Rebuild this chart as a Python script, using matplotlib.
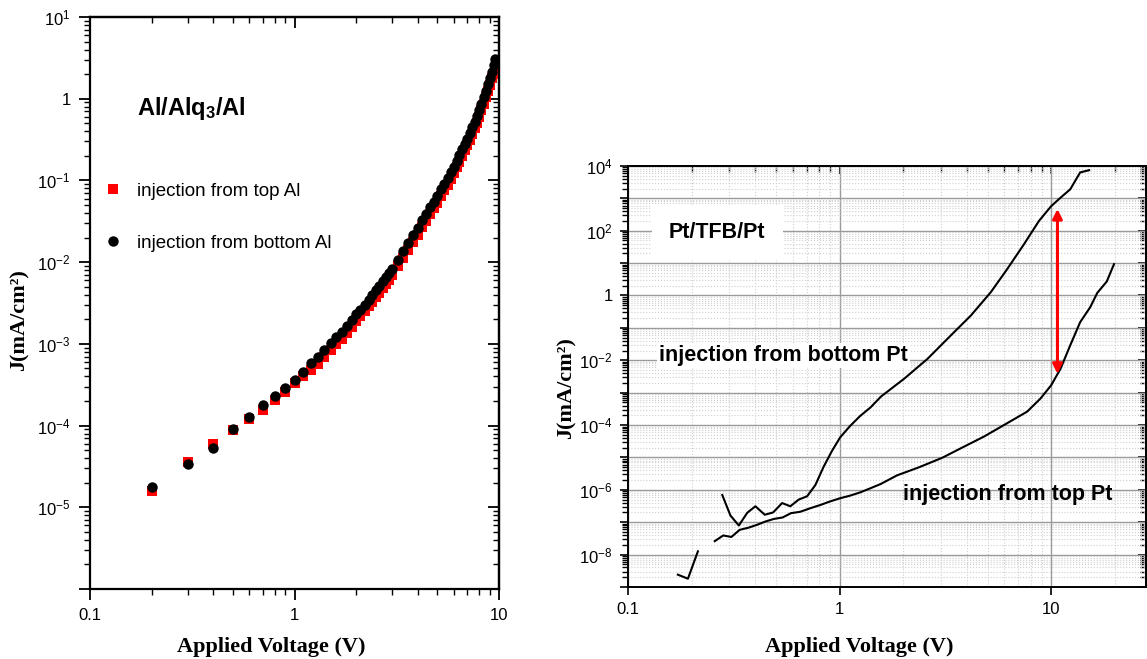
import numpy as np
import matplotlib
matplotlib.use("Agg")
import matplotlib.pyplot as plt
from matplotlib.ticker import LogLocator, FuncFormatter, NullFormatter

plt.rcParams['font.family'] = ['Liberation Sans', 'DejaVu Sans']
plt.rcParams['mathtext.fontset'] = 'custom'
plt.rcParams['mathtext.rm'] = 'Liberation Sans'
plt.rcParams['mathtext.it'] = 'Liberation Sans:italic'
plt.rcParams['mathtext.bf'] = 'Liberation Sans:bold'

# ---- Al/Alq3/Al data (V, mA/cm2) ----
v_top_al = [0.2, 0.3, 0.4, 0.5, 0.6, 0.7, 0.8, 0.9, 1.0, 1.1, 1.2, 1.3, 1.4, 1.5,
            1.6, 1.7, 1.8, 1.9, 2.0, 2.1, 2.2, 2.3, 2.4, 2.5, 2.6, 2.7, 2.8, 2.9,
            3.0, 3.2, 3.4, 3.6, 3.8, 4.0, 4.2, 4.4, 4.6, 4.8, 5.0, 5.2, 5.4, 5.6,
            5.8, 6.0, 6.2, 6.4, 6.6, 6.8, 7.0, 7.2, 7.4, 7.6, 7.8, 8.0, 8.2, 8.4,
            8.6, 8.8, 9.0, 9.2, 9.4, 9.6, 9.8, 10.0]
j_top_al = [1.6e-5, 3.6e-5, 5.9e-5, 8.8e-5, 1.2e-4, 1.57e-4, 2.05e-4, 2.6e-4, 3.3e-4,
            4.0e-4, 4.8e-4, 5.7e-4, 7.0e-4, 8.4e-4, 9.9e-4, 1.16e-3, 1.37e-3, 1.61e-3,
            1.89e-3, 2.17e-3, 2.50e-3, 2.87e-3, 3.29e-3, 3.78e-3, 4.24e-3, 4.87e-3,
            5.46e-3, 6.13e-3, 6.88e-3, 8.85e-3, 1.12e-2, 1.41e-2, 1.77e-2, 2.17e-2,
            2.68e-2, 3.22e-2, 3.87e-2, 4.55e-2, 5.34e-2, 6.42e-2, 7.54e-2, 8.85e-2,
            0.104, 0.122, 0.144, 0.169, 0.198, 0.233, 0.268, 0.314, 0.370, 0.434,
            0.510, 0.599, 0.720, 0.868, 1.04, 1.25, 1.47, 1.77, 2.0, 2.2, 2.35, 2.45]

v_bot_al = [0.2, 0.3, 0.4, 0.5, 0.6, 0.7, 0.8, 0.9, 1.0, 1.1, 1.2, 1.3, 1.4, 1.5,
            1.6, 1.7, 1.8, 1.9, 2.0, 2.1, 2.2, 2.3, 2.4, 2.5, 2.6, 2.7, 2.8, 2.9,
            3.0, 3.2, 3.4, 3.6, 3.8, 4.0, 4.2, 4.4, 4.6, 4.8, 5.0, 5.2, 5.4, 5.6,
            5.8, 6.0, 6.2, 6.4, 6.6, 6.8, 7.0, 7.2, 7.4, 7.6, 7.8, 8.0, 8.2, 8.4,
            8.6, 8.8, 9.0, 9.2, 9.4, 9.6]
j_bot_al = [1.78e-5, 3.39e-5, 5.37e-5, 9.12e-5, 1.29e-4, 1.78e-4, 2.29e-4, 2.88e-4,
            3.59e-4, 4.57e-4, 5.82e-4, 6.92e-4, 8.51e-4, 1.02e-3, 1.20e-3, 1.41e-3,
            1.66e-3, 1.95e-3, 2.29e-3, 2.63e-3, 3.02e-3, 3.47e-3, 3.98e-3, 4.57e-3,
            5.13e-3, 5.89e-3, 6.61e-3, 7.41e-3, 8.32e-3, 1.07e-2, 1.35e-2, 1.70e-2,
            2.14e-2, 2.63e-2, 3.24e-2, 3.89e-2, 4.68e-2, 5.50e-2, 6.46e-2, 7.76e-2,
            9.12e-2, 0.107, 0.126, 0.148, 0.174, 0.204, 0.240, 0.282, 0.324, 0.380,
            0.447, 0.525, 0.617, 0.724, 0.871, 1.05, 1.26, 1.51, 1.78, 2.14, 2.57, 3.02]

# ---- Pt/TFB/Pt data ----
v_bot_pt = [0.279, 0.305, 0.334, 0.366, 0.40, 0.443, 0.485, 0.535, 0.585, 0.641,
            0.702, 0.768, 0.841, 0.921, 1.007, 1.12, 1.25, 1.40, 1.57, 2.02, 2.60,
            3.35, 4.17, 5.18, 6.2, 7.43, 8.75, 10.0, 11.07, 12.3, 13.7, 15.1]
j_bot_pt = [6.9e-7, 1.6e-7, 7.9e-8, 1.95e-7, 3.1e-7, 1.7e-7, 2.0e-7, 3.9e-7, 3.1e-7,
            5.0e-7, 6.3e-7, 1.4e-6, 5.2e-6, 1.6e-5, 4.2e-5, 9.3e-5, 1.9e-4, 3.5e-4,
            7.6e-4, 2.7e-3, 1.1e-2, 5.8e-2, 0.24, 1.26, 6.6, 38, 200, 575, 1050,
            1900, 6300, 7400]

v_top_pt = [0.257, 0.282, 0.308, 0.337, 0.372, 0.407, 0.446, 0.489, 0.538, 0.589,
            0.652, 0.727, 0.811, 0.904, 1.007, 1.12, 1.25, 1.40, 1.56, 1.87, 2.38,
            3.06, 3.73, 4.81, 5.98, 7.7, 8.9, 10.0, 11.07, 12.3, 13.7, 15.3, 16.5,
            18.3, 19.8]
j_top_pt = [2.6e-8, 3.9e-8, 3.5e-8, 5.8e-8, 6.8e-8, 8.3e-8, 1.05e-7, 1.26e-7, 1.4e-7,
            1.9e-7, 2.1e-7, 2.7e-7, 3.4e-7, 4.4e-7, 5.5e-7, 6.6e-7, 8.3e-7, 1.12e-6,
            1.5e-6, 2.8e-6, 5.0e-6, 9.8e-6, 1.9e-5, 4.4e-5, 1.0e-4, 2.6e-4, 6.6e-4,
            1.7e-3, 5.5e-3, 2.9e-2, 0.15, 0.44, 1.2, 2.7, 9.3]

v_low_seg = [0.172, 0.192, 0.214]
j_low_seg = [2.4e-9, 1.8e-9, 1.26e-8]

arrow_v = 10.7
arrow_j = [3.8e-3, 470]


def pow_label(v, pos, skip_odd=False, skip=()):
    e = int(round(np.log10(v)))
    if e in skip or (skip_odd and e % 2):
        return ''
    if e == 0:
        return '1'
    return r'10$^{%d}$' % e


def x_label(v, pos):
    return '%g' % v


def log_axis(axis, numticks=100):
    axis.set_major_locator(LogLocator(base=10, numticks=numticks))
    axis.set_minor_locator(LogLocator(base=10, subs=np.arange(2, 10), numticks=numticks))


serif = dict(family=['Liberation Serif', 'DejaVu Serif'], weight='bold', size=16)

fig = plt.figure(figsize=(11.47, 6.59), dpi=100)

# ================= left panel =================
ax1 = fig.add_axes([0.0785, 0.1062, 0.3566, 0.868])
ax1.set_xscale('log')
ax1.set_yscale('log')
ax1.set_xlim(0.1, 10)
ax1.set_ylim(1e-6, 10)

ax1.plot(v_top_al, j_top_al, 's', color='#ff0000', ms=6.5, mew=0,
         label='injection from top Al')
ax1.plot(v_bot_al, j_bot_al, 'o', color='black', ms=7.5, mew=0,
         label='injection from bottom Al')

log_axis(ax1.xaxis)
log_axis(ax1.yaxis)
ax1.xaxis.set_major_formatter(FuncFormatter(x_label))
ax1.yaxis.set_major_formatter(FuncFormatter(lambda v, p: pow_label(v, p, skip=(-6,))))
ax1.xaxis.set_minor_formatter(NullFormatter())
ax1.yaxis.set_minor_formatter(NullFormatter())
ax1.tick_params(which='major', direction='out', length=8, width=1.3, labelsize=12, pad=6)
ax1.tick_params(which='minor', direction='out', length=4, width=1.0)
for s in ax1.spines.values():
    s.set_linewidth(1.6)

# mirrored inward ticks on top and right
top1 = ax1.secondary_xaxis('top', functions=(lambda x: x, lambda x: x))
right1 = ax1.secondary_yaxis('right', functions=(lambda x: x, lambda x: x))
for sec, axis in ((top1, top1.xaxis), (right1, right1.yaxis)):
    log_axis(axis)
    axis.set_major_formatter(NullFormatter())
    axis.set_minor_formatter(NullFormatter())
    sec.tick_params(which='major', direction='in', length=8, width=1.3)
    sec.tick_params(which='minor', direction='in', length=4, width=1.0)
    for s in sec.spines.values():
        s.set_linewidth(1.6)

ax1.set_xlabel('Applied Voltage (V)', fontdict=serif)
ax1.xaxis.set_label_coords(0.443, -0.084)
ax1.set_ylabel('J(mA/cm²)', fontdict=serif)
ax1.yaxis.set_label_coords(-0.149, 0.47)

ax1.text(0.115, 0.829, r'Al/Alq$_\mathbf{3}$/Al', transform=ax1.transAxes,
         fontsize=17, fontweight='bold', va='baseline', ha='left')
ax1.legend(loc='upper left', bbox_to_anchor=(0.034, 0.71), frameon=False,
           fontsize=13.5, handlelength=0.95, handletextpad=0.8, labelspacing=1.85,
           borderpad=0, borderaxespad=0)

# ================= right panel =================
ax2 = fig.add_axes([0.5475, 0.1093, 0.4515, 0.6389])
ax2.set_xscale('log')
ax2.set_yscale('log')
ax2.set_xlim(0.1, 28)
ax2.set_ylim(1e-9, 1e4)

log_axis(ax2.xaxis)
log_axis(ax2.yaxis)
ax2.grid(which='major', color='#9a9a9a', lw=1.0)
ax2.grid(which='minor', color='#cfcfcf', lw=0.8, ls=':')
ax2.set_axisbelow(True)

ax2.plot(v_bot_pt, j_bot_pt, color='black', lw=1.5)
ax2.plot(v_top_pt, j_top_pt, color='black', lw=1.5)
ax2.plot(v_low_seg, j_low_seg, color='black', lw=1.5)

ax2.annotate('', xy=(arrow_v, arrow_j[1]), xytext=(arrow_v, arrow_j[0]),
             arrowprops=dict(arrowstyle='<|-|>', color='red', lw=2.2,
                             mutation_scale=14, shrinkA=0, shrinkB=0))

ax2.xaxis.set_major_formatter(FuncFormatter(x_label))
ax2.yaxis.set_major_formatter(FuncFormatter(lambda v, p: pow_label(v, p, skip_odd=True)))
ax2.xaxis.set_minor_formatter(NullFormatter())
ax2.yaxis.set_minor_formatter(NullFormatter())
ax2.tick_params(which='major', direction='out', length=6, width=1.2, labelsize=12, pad=5)
ax2.tick_params(axis='y', which='minor', direction='out', length=4, width=1.0)
ax2.tick_params(axis='x', which='minor', length=0)
for s in ax2.spines.values():
    s.set_linewidth(1.4)

top2 = ax2.secondary_xaxis('top', functions=(lambda x: x, lambda x: x))
right2 = ax2.secondary_yaxis('right', functions=(lambda x: x, lambda x: x))
for sec, axis in ((top2, top2.xaxis), (right2, right2.yaxis)):
    log_axis(axis)
    axis.set_major_formatter(NullFormatter())
    axis.set_minor_formatter(NullFormatter())
    sec.tick_params(which='major', direction='in', length=6, width=1.2)
    sec.tick_params(which='minor', direction='in', length=4, width=1.0)
    for s in sec.spines.values():
        s.set_linewidth(1.4)

ax2.set_xlabel('Applied Voltage (V)', fontdict=serif)
ax2.xaxis.set_label_coords(0.447, -0.119)
ax2.set_ylabel('J(mA/cm²)', fontdict=serif)
ax2.yaxis.set_label_coords(-0.1, 0.473)

ax2.text(0.079, 0.829, 'Pt/TFB/Pt', transform=ax2.transAxes, fontsize=15.5,
         fontweight='bold', va='baseline', ha='left',
         bbox=dict(boxstyle='square,pad=0.8', fc='white', ec='none'))
ax2.text(0.060, 0.537, 'injection from bottom Pt', transform=ax2.transAxes,
         fontsize=15.5, fontweight='bold', va='baseline', ha='left',
         bbox=dict(boxstyle='square,pad=0.1', fc='white', ec='none'))
ax2.text(0.532, 0.207, 'injection from top Pt', transform=ax2.transAxes,
         fontsize=15.5, fontweight='bold', va='baseline', ha='left')

fig.savefig('out.png', dpi=100)
